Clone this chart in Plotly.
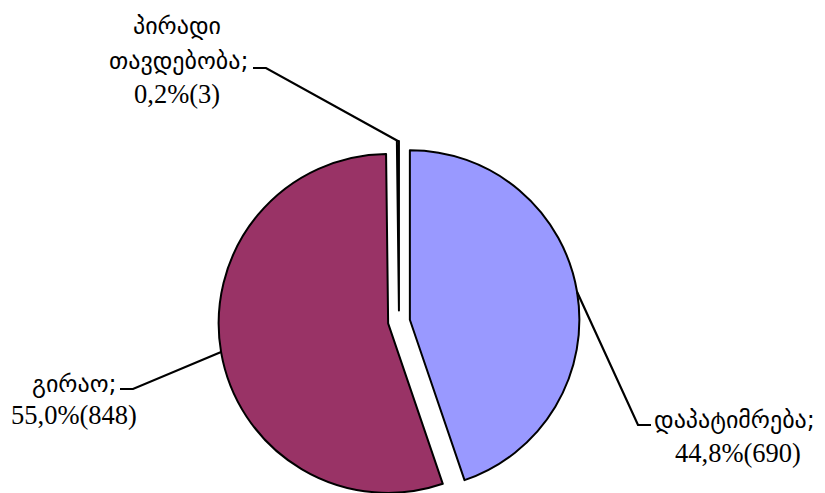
import math
import plotly.graph_objects as go

# ---- data ----
categories = ["დაპატიმრება", "გირაო", "პირადი თავდებობა"]
counts = [690, 848, 3]
pct_labels = ["44,8%(690)", "55,0%(848)", "0,2%(3)"]
colors = ["#9999FF", "#993366", "#FFFFCC"]

OFF = 8                    # page body margin
W, H = 817, 510            # figure size (bottom part falls outside the window)
PULL = 0.065
CX, CY = 399, 321.5        # pie centre in window pixels
R_TARGET = 169.5
HALF = R_TARGET * (1 + PULL)

def fx(x):
    return (x - OFF) / W

def fy(y):
    return 1 - (y - OFF) / H

dom_x = [fx(CX - HALF), fx(CX + HALF)]
dom_y = [fy(CY + HALF), fy(CY - HALF)]

fig = go.Figure(go.Pie(
    labels=categories,
    values=counts,
    sort=False,
    direction="clockwise",
    rotation=0,
    pull=[PULL] * len(counts),
    marker=dict(colors=colors, line=dict(color="black", width=2)),
    textinfo="none",
    hoverinfo="label+value+percent",
    domain=dict(x=dom_x, y=dom_y),
    showlegend=False,
))

# geometry (same as plotly's pie layout)
R = HALF / (1 + PULL)
total = sum(counts)
anchors = []
cum = 0
for v in counts:
    mid = (cum + v / 2) / total * 2 * math.pi
    cum += v
    d = R * (1 + PULL)
    anchors.append((CX + d * math.sin(mid), CY - d * math.cos(mid)))

GEO_FONT = dict(family="DejaVu Sans, serif", size=24, color="black")
NUM_FONT = dict(family="Liberation Serif, DejaVu Serif, serif", size=26.5, color="black")

# leader line elbows (label side)
leaders = [
    [(638, 425), (651, 425)],   # blue -> right label
    [(133, 389), (120, 389)],   # purple -> left label
    [(266, 68), (253, 68)],     # tiny -> top label
]
shapes = []
for (ax, ay), pts in zip(anchors, leaders):
    path_pts = [(ax, ay)] + pts
    p = "M " + " L ".join(f"{fx(x)},{fy(y)}" for x, y in path_pts)
    shapes.append(dict(type="path", path=p, xref="paper", yref="paper",
                       line=dict(color="black", width=2.2)))

annotations = []
def txt(t, x, y, font, xanchor="center"):
    annotations.append(dict(text=t, x=fx(x), y=fy(y), xref="paper", yref="paper",
                            xanchor=xanchor, yanchor="middle", showarrow=False,
                            font=font))

# right label
txt(categories[0] + ";", 652, 420, GEO_FONT, "left")
txt(pct_labels[0], 738, 453, NUM_FONT)
# left label
txt(categories[1] + ";", 119, 384, GEO_FONT, "right")
txt(pct_labels[1], 74, 415, NUM_FONT)
# top label
name_parts = categories[2].split(" ")
txt(name_parts[0], 177, 26, GEO_FONT)
txt(name_parts[1] + ";", 251, 61, GEO_FONT, "right")
txt(pct_labels[2], 177, 94, NUM_FONT)

fig.update_layout(
    width=W, height=H,
    margin=dict(l=0, r=0, t=0, b=0),
    paper_bgcolor="white", plot_bgcolor="white",
    shapes=shapes, annotations=annotations,
)
fig.write_html("out.html")
